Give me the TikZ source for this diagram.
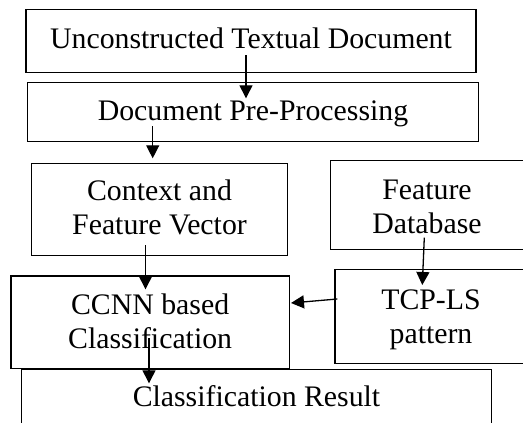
\documentclass[tikz,border=0pt]{standalone}
\usepackage{fontspec}
\setmainfont{Liberation Serif}
\usetikzlibrary{arrows.meta,calc}
\begin{document}
\begin{tikzpicture}[x=1pt,y=-1pt,
  box/.style={draw=black, line width=1.4pt, inner sep=0pt, outer sep=0pt, align=center,
    font=\fontsize{29.8}{34}\selectfont},
  arr/.style={draw=black, line width=1.3pt, -{Triangle[length=13pt,width=13pt]}}]
\useasboundingbox (0,0) rectangle (523,423);
\node[box, minimum width=450pt, minimum height=63.4pt, text height=20.4pt, text depth=5.8pt] (src) at (251,41) {Unconstructed Textual Document};
\node[box, minimum width=450.6pt, minimum height=59pt, text height=22pt, text depth=6.4pt] (pre) at (253,112.2) {Document Pre-Processing};
\node[box, minimum width=255.6pt, minimum height=92.4pt] (ctx) at (159.5,209.5) {Context and\\Feature Vector\rule[-3.8pt]{0pt}{0pt}};
\node[box, minimum width=201.3pt, minimum height=89pt] (db) at (431.35,205.2) {\kern-8.7pt\rule{0pt}{22pt}Feature\\\kern-8.7pt Database};
\node[box, minimum width=278.3pt, minimum height=92.3pt] (ccnn) at (150.15,322.15) {CCNN based\\Classification\rule[-1.9pt]{0pt}{0pt}};
\node[box, minimum width=199pt, minimum height=94pt] (tcp) at (434.5,316.3) {\kern-7pt\rule{0pt}{26.5pt}TCP-LS\\\kern-7pt pattern};
\node[box, minimum width=469.6pt, minimum height=57pt, text height=21pt, text depth=3.4pt] (res) at (256.5,398) {Classification Result};
\draw[arr] ($(src.south)+(-5,-17.7)$) -- ($(pre.north)+(-7,15.6)$);
\draw[arr] ($(pre.south)+(-100.3,-15.7)$) -- ($(ctx.north)+(-6.8,-5)$);
\draw[arr] ($(ctx.south)+(-14,-10.7)$) -- ($(ccnn.north)+(-4.65,13.3)$);
\draw[arr] ($(db.south)+(-7.05,-12)$) -- ($(tcp.north)+(-12.2,15.7)$);
\draw[arr] ($(tcp.west)+(2.3,-17.3)$) -- ($(ccnn.east)+(1.7,-19.15)$);
\draw[arr] ($(ccnn.south)+(-1.15,-30)$) -- ($(res.north)+(-107.5,13.8)$);
\end{tikzpicture}
\end{document}
